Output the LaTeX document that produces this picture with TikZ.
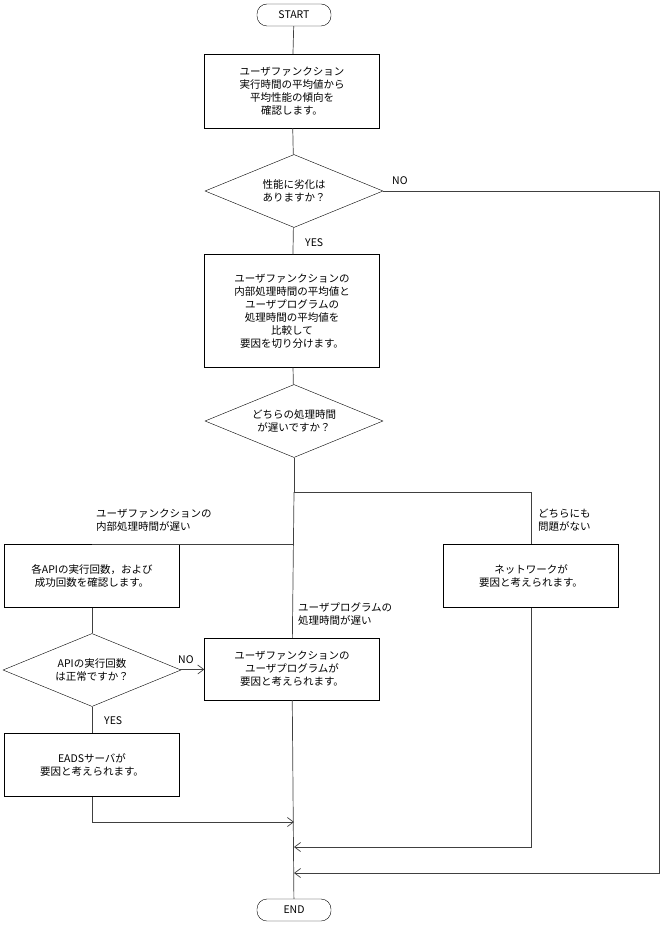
\documentclass[tikz,border=0pt]{standalone}
\usepackage{fontspec}
\newfontfamily\cjk{Noto Sans CJK JP}
\usetikzlibrary{shapes.geometric,arrows.meta}

\tikzset{
  every node/.style={font=\cjk\fontsize{10.5}{13}\selectfont},
  proc/.style={draw, align=center, minimum width=175pt, inner sep=2pt},
  dec/.style={draw, diamond, aspect=2.45, align=center, minimum width=178pt, minimum height=73pt, inner sep=0pt},
  term/.style={draw, rounded corners=10pt, minimum width=74pt, minimum height=22pt},
  lbl/.style={align=left, anchor=south west, inner sep=0pt},
  flow/.style={draw=black!75, line width=0.7pt},
  arr/.style={flow, -{Straight Barb[length=6pt,width=9pt]}},
}

\begin{document}
\begin{tikzpicture}[x=1pt,y=-1pt]
  \useasboundingbox (0,0) rectangle (661,925);

  \node[term] (start) at (294,15) {START};
  \node[proc, minimum height=74pt] (check) at (292,91) {ユーザファンクション\\実行時間の平均値から\\平均性能の傾向を\\確認します。};
  \node[dec] (worse) at (294,191) {性能に劣化は\\ありますか？};
  \node[proc, minimum height=113pt] (compare) at (292,311) {ユーザファンクションの\\内部処理時間の平均値と\\ユーザプログラムの\\処理時間の平均値を\\比較して\\要因を切り分けます。};
  \node[dec] (slow) at (294,421) {どちらの処理時間\\が遅いですか？};
  \node[proc, minimum height=63pt] (api) at (92,576) {各APIの実行回数，および\\成功回数を確認します。};
  \node[dec] (apiok) at (92,670) {APIの実行回数\\は正常ですか？};
  \node[proc, minimum height=63pt] (eads) at (92,765) {EADSサーバが\\要因と考えられます。};
  \node[proc, minimum height=62pt] (userprog) at (292,669) {ユーザファンクションの\\ユーザプログラムが\\要因と考えられます。};
  \node[proc, minimum height=63pt] (net) at (531,576) {ネットワークが\\要因と考えられます。};
  \node[term] (end) at (294,910) {END};

  \coordinate (split) at (294,492);
  \coordinate (joinA) at (294,822);
  \coordinate (joinB) at (294,847);
  \coordinate (joinC) at (294,873);

  % main line
  \draw[flow] (start) -- (check);
  \draw[flow] (check) -- (worse);
  \draw[flow] (worse) -- (compare);
  \draw[flow] (compare) -- (slow);
  \draw[flow] (slow) -- (split);
  \draw[flow] (api.north -| split) -| (api.north) ;
  \draw[flow] (split) -| (net.north);
  \draw[flow] (split) -- (userprog);
  \draw[flow] (userprog) -- (end);

  % branches
  \draw[flow] (api) -- (apiok);
  \draw[flow] (apiok) -- (eads);
  \draw[arr] (apiok) -- (userprog);
  \draw[arr] (eads.south) |- (joinA);
  \draw[arr] (net.south) |- (joinB);
  \draw[arr] (worse.east) -- (659,191) |- (joinC);

  % labels
  \node[lbl] at (392,185) {NO};
  \node[lbl] at (305,247) {YES};
  \node[lbl] at (96,532) {ユーザファンクションの\\内部処理時間が遅い};
  \node[lbl] at (298,626) {ユーザプログラムの\\処理時間が遅い};
  \node[lbl] at (538,532) {どちらにも\\問題がない};
  \node[lbl] at (178,664) {NO};
  \node[lbl] at (104,725) {YES};
\end{tikzpicture}
\end{document}
